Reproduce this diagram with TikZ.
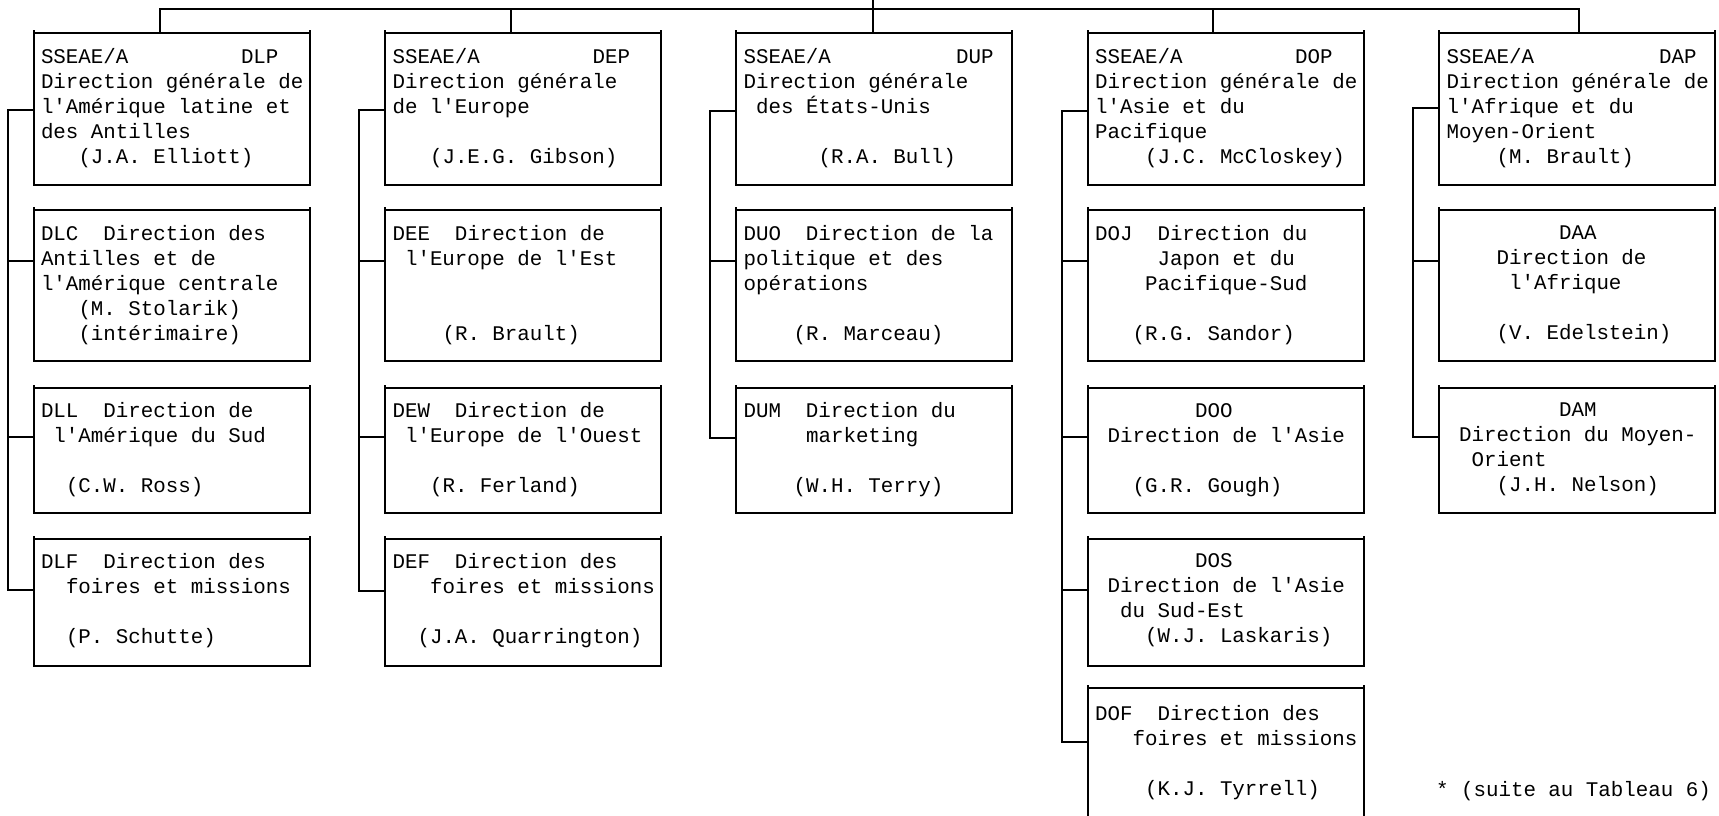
\documentclass[tikz,border=0pt]{standalone}
\usepackage{fontspec}
\setmonofont{Liberation Mono}
\usetikzlibrary{calc}
\newlength\chw \setlength\chw{12.5pt}
\newcommand\sk[1]{\hskip#1\chw\relax}
\newcommand\bt[1]{\vtop{\baselineskip=25pt\lineskiplimit=-100pt\lineskip=0pt\halign{##\hfil\cr#1\crcr}}}
\newcommand\mkbox[6]{%
  \node[orgbox, minimum height=#4pt] (#1) at (#2,#3) {};
  \node[txt] (#1-t) at ($(#1.north west)+(7.5,#5)$) {\bt{#6}};}
\begin{document}
\begin{tikzpicture}[x=1pt,y=-1pt,line width=2pt,
  orgbox/.style={draw, rectangle, anchor=north west, inner sep=0pt, outer sep=0pt, minimum width=276pt},
  txt/.style={anchor=base west, inner sep=0pt, outer sep=0pt, font=\fontsize{20.83}{25}\selectfont\ttfamily},
  conn/.style={draw, line width=2pt, line cap=rect}]
\useasboundingbox (0,0) rectangle (1719,815);
\fill[white] (0,0) rectangle (1719,815);
\clip (0,0) rectangle (1719,815);
% ---- row 1
\mkbox{dlp}{33.5}{33.3}{151.7}{30}{SSEAE/A\sk{9}DLP\cr Direction générale de\cr l'Amérique latine et\cr des Antilles\cr \sk{3}(J.A. Elliott)}
\mkbox{dep}{385}{33.3}{151.7}{30}{SSEAE/A\sk{9}DEP\cr Direction générale\cr de l'Europe\cr \cr \sk{3}(J.E.G. Gibson)}
\mkbox{dup}{736}{33.3}{151.7}{30}{SSEAE/A\sk{10}DUP\cr Direction générale\cr \sk{1}des États-Unis\cr \cr \sk{6}(R.A. Bull)}
\mkbox{dop}{1087.5}{33.3}{151.7}{30}{SSEAE/A\sk{9}DOP\cr Direction générale de\cr l'Asie et du\cr Pacifique\cr \sk{4}(J.C. McCloskey)}
\mkbox{dap}{1439}{33.3}{151.7}{30}{SSEAE/A\sk{10}DAP\cr Direction générale de\cr l'Afrique et du\cr Moyen-Orient\cr \sk{4}(M. Brault)}
% ---- row 2
\mkbox{dlc}{33.5}{210}{151}{30}{DLC\sk{2}Direction des\cr Antilles et de\cr l'Amérique centrale\cr \sk{3}(M. Stolarik)\cr \sk{3}(intérimaire)}
\mkbox{dee}{385}{210}{151}{30}{DEE\sk{2}Direction de\cr \sk{1}l'Europe de l'Est\cr \cr \cr \sk{4}(R. Brault)}
\mkbox{duo}{736}{210}{151}{30}{DUO\sk{2}Direction de la\cr politique et des\cr opérations\cr \cr \sk{4}(R. Marceau)}
\mkbox{doj}{1087.5}{210}{151}{30}{DOJ\sk{2}Direction du\cr \sk{5}Japon et du\cr \sk{4}Pacifique-Sud\cr \cr \sk{3}(R.G. Sandor)}
\mkbox{daa}{1439}{210}{151}{29}{\sk{9}DAA\cr \sk{4}Direction de\cr \sk{5}l'Afrique\cr \cr \sk{4}(V. Edelstein)}
% ---- row 3
\mkbox{dll}{33.5}{388}{125}{29}{DLL\sk{2}Direction de\cr \sk{1}l'Amérique du Sud\cr \cr \sk{2}(C.W. Ross)}
\mkbox{dew}{385}{388}{125}{29}{DEW\sk{2}Direction de\cr \sk{1}l'Europe de l'Ouest\cr \cr \sk{3}(R. Ferland)}
\mkbox{dum}{736}{388}{125}{29}{DUM\sk{2}Direction du\cr \sk{5}marketing\cr \cr \sk{4}(W.H. Terry)}
\mkbox{doo}{1087.5}{388}{125}{29}{\sk{8}DOO\cr \sk{1}Direction de l'Asie\cr \cr \sk{3}(G.R. Gough)}
\mkbox{dam}{1439}{388}{125}{28}{\sk{9}DAM\cr \sk{1}Direction du Moyen-\cr \sk{2}Orient\cr \sk{4}(J.H. Nelson)}
% ---- row 4
\mkbox{dlf}{33.5}{539}{127}{29}{DLF\sk{2}Direction des\cr \sk{2}foires et missions\cr \cr \sk{2}(P. Schutte)}
\mkbox{def}{385}{539}{127}{29}{DEF\sk{2}Direction des\cr \sk{3}foires et missions\cr \cr \sk{2}(J.A. Quarrington)}
\mkbox{dos}{1087.5}{539}{127}{28.5}{\sk{8}DOS\cr \sk{1}Direction de l'Asie\cr \sk{2}du Sud-Est\cr \sk{4}(W.J. Laskaris)}
% ---- row 5
\mkbox{dof}{1087.5}{688}{160}{32}{DOF\sk{2}Direction des\cr \sk{3}foires et missions\cr \cr \sk{4}(K.J. Tyrrell)}
% small corner overshoots on top edges
\foreach \b in {dlp,dep,dup,dop,dap,dlc,dee,duo,doj,daa,dll,dew,dum,doo,dam,dlf,def,dos,dof}
  \draw (\b.north west) -- ++(0,-3) (\b.north east) -- ++(0,-3);
% ---- top bus
\coordinate (top) at (873,0);
\coordinate (v1) at (160,9.3);
\coordinate (v2) at (511,9.3);
\coordinate (v4) at (1213,9.3);
\coordinate (v5) at (1579,9.3);
\draw[conn] (v1) -- (v5);
\draw[conn] (top) -- (top |- dup.north);
\draw[conn] (v1) -- (v1 |- dlp.north);
\draw[conn] (v2) -- (v2 |- dep.north);
\draw[conn] (v4) -- (v4 |- dop.north);
\draw[conn] (v5) -- (v5 |- dap.north);
% ---- column spines
\draw[conn] ($(dlp.north west)+(0,76.7)$) -- ++(-26,0) |- ($(dlf.north west)+(0,51)$);
\draw[conn] ($(dlc.north west)+(0,51)$) -- ++(-26,0);
\draw[conn] ($(dll.north west)+(0,49)$) -- ++(-26,0);
\draw[conn] ($(dep.north west)+(0,76.7)$) -- ++(-26,0) |- ($(def.north west)+(0,52)$);
\draw[conn] ($(dee.north west)+(0,51)$) -- ++(-26,0);
\draw[conn] ($(dew.north west)+(0,49)$) -- ++(-26,0);
\draw[conn] ($(dup.north west)+(0,78)$) -- ++(-26,0) |- ($(dum.north west)+(0,50)$);
\draw[conn] ($(duo.north west)+(0,51)$) -- ++(-26,0);
\draw[conn] ($(dop.north west)+(0,78)$) -- ++(-26,0) |- ($(dof.north west)+(0,54)$);
\draw[conn] ($(doj.north west)+(0,51)$) -- ++(-26,0);
\draw[conn] ($(doo.north west)+(0,49)$) -- ++(-26,0);
\draw[conn] ($(dos.north west)+(0,51)$) -- ++(-26,0);
\draw[conn] ($(dap.north west)+(0,75)$) -- ++(-26,0) |- ($(dam.north west)+(0,49)$);
\draw[conn] ($(daa.north west)+(0,51)$) -- ++(-26,0);
% ---- note
\node[txt] (suite) at (1436,796.7) {* (suite au Tableau 6)};
\end{tikzpicture}
\end{document}
